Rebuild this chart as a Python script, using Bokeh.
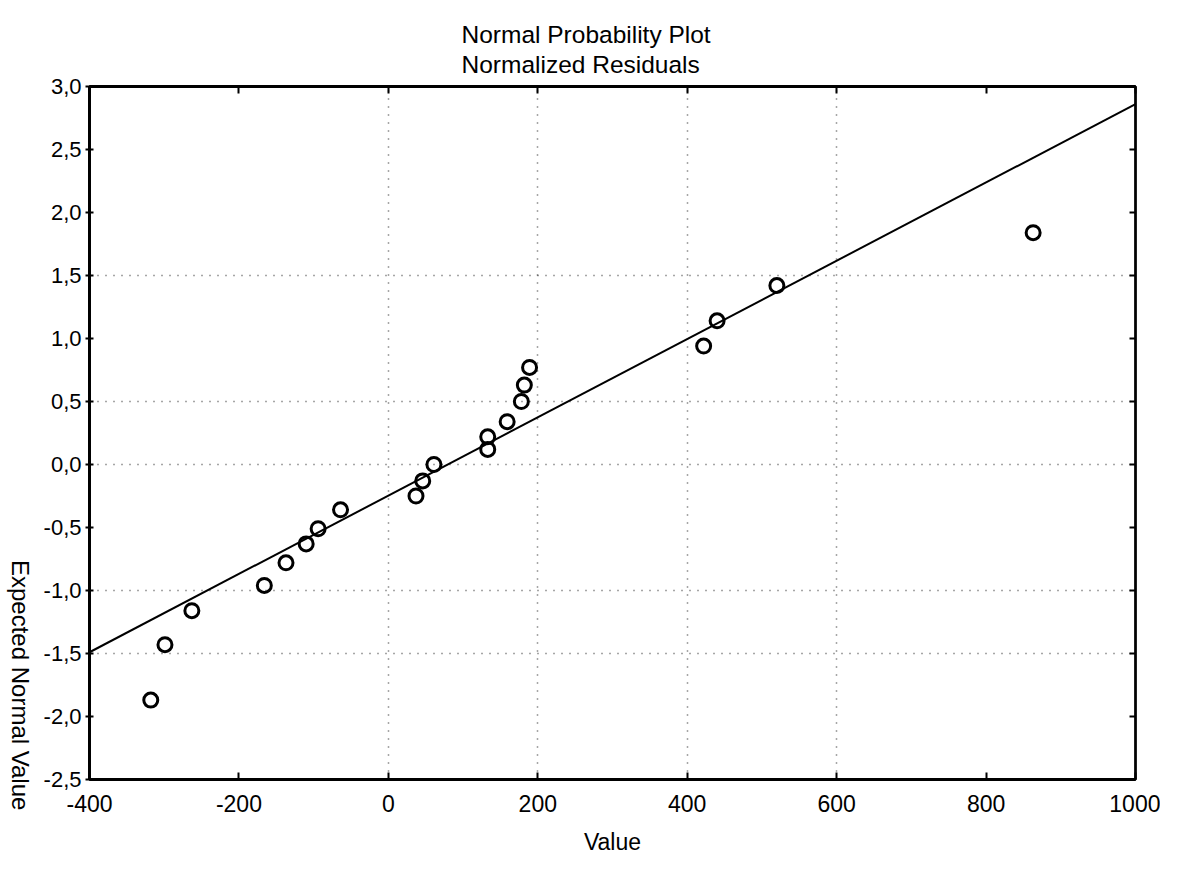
import numpy as np
from bokeh.plotting import figure
from bokeh.layouts import row
from bokeh.models import LinearAxis, FixedTicker, Range1d, CustomJSTickFormatter, Grid, Title, Div
from bokeh.embed import file_html
from bokeh.resources import INLINE

# ---- data ----
values = [-318, -299, -263, -166, -137, -110, -94, -64, 37, 46, 61,
          133, 133, 159, 178, 182, 189, 422, 440, 520, 863]
expected = [-1.87, -1.43, -1.16, -0.96, -0.78, -0.63, -0.51, -0.36, -0.25, -0.13, 0.00,
            0.22, 0.12, 0.34, 0.50, 0.63, 0.77, 0.94, 1.14, 1.42, 1.84]
fit_x = [-400, 1000]
fit_y = [-1.49, 2.86]

x_ticks = [-400, -200, 0, 200, 400, 600, 800, 1000]
y_ticks = [3.0, 2.5, 2.0, 1.5, 1.0, 0.5, 0.0, -0.5, -1.0, -1.5, -2.0, -2.5]
x_grid = [0, 200, 400, 600]
y_grid = [1.5, 0.5, 0.0, -1.0, -1.5]

title_text = "Normal Probability Plot"
subtitle_text = "Normalized Residuals"
x_label = "Value"
y_label = "Expected Normal Value"

FONT = "Liberation Sans"
H = 859
LW = 37

# ---- main plot ----
p = figure(width=1160 - LW, height=H, output_backend="svg", toolbar_location=None,
           x_range=Range1d(-400, 1000), y_range=Range1d(-2.5, 3.0),
           min_border_left=89 - LW, min_border_right=25, min_border_top=86, min_border_bottom=H - 779,
           x_axis_type=None, y_axis_type=None)
p.background_fill_color = "white"
p.border_fill_color = "white"
p.outline_line_color = "black"
p.outline_line_width = 2.5

y_fmt = CustomJSTickFormatter(code="return tick.toFixed(1).replace('.', ',');")
x_fmt = CustomJSTickFormatter(code="return tick.toFixed(0);")
blank_fmt = CustomJSTickFormatter(code="return '';")


def style_axis(ax, t_in, t_out):
    ax.axis_line_color = "black"
    ax.axis_line_width = 3
    ax.major_tick_line_color = "black"
    ax.major_tick_line_width = 2
    ax.major_tick_in = t_in
    ax.major_tick_out = t_out
    ax.minor_tick_line_color = None
    ax.major_label_text_font = FONT
    ax.major_label_text_color = "black"


bottom = LinearAxis(ticker=FixedTicker(ticks=x_ticks), formatter=x_fmt)
style_axis(bottom, 7, 0)
bottom.major_label_text_font_size = "23px"
bottom.major_label_standoff = 15
bottom.axis_label = x_label
bottom.axis_label_text_font = FONT
bottom.axis_label_text_font_size = "23px"
bottom.axis_label_text_font_style = "normal"
bottom.axis_label_text_color = "black"
bottom.axis_label_standoff = 14
p.add_layout(bottom, "below")

left = LinearAxis(ticker=FixedTicker(ticks=y_ticks), formatter=y_fmt)
style_axis(left, 4, 4)
left.major_label_text_font_size = "22px"
left.major_label_standoff = 4
p.add_layout(left, "left")

top = LinearAxis(ticker=FixedTicker(ticks=x_ticks), formatter=blank_fmt)
style_axis(top, 7, 0)
top.major_label_standoff = 0
p.add_layout(top, "above")

right = LinearAxis(ticker=FixedTicker(ticks=y_ticks), formatter=blank_fmt)
style_axis(right, 6, 0)
right.axis_line_width = 2
right.major_label_standoff = 0
p.add_layout(right, "right")

# dotted grids (only those visible in reference)
for dim, ticks in ((0, x_grid), (1, y_grid)):
    p.add_layout(Grid(dimension=dim, ticker=FixedTicker(ticks=ticks), grid_line_color="#222222",
                      grid_line_dash="1 7", grid_line_width=1.5, grid_line_alpha=0.8))

# fitted line
p.line(fit_x, fit_y, line_color="black", line_width=2)

# points
p.scatter(values, expected, marker="circle", size=14, fill_color=None,
          line_color="black", line_width=3)

# two-line title, both lines left-aligned as in the reference
p.add_layout(Title(text=title_text + "\n" + subtitle_text, align="left", offset=372,
                   text_font=FONT, text_font_size="24.5px", text_font_style="normal",
                   text_color="black", text_line_height=1.1, standoff=17), "above")

# ---- rotated y-axis label (reads top to bottom) in a narrow side cell ----
ylab = Div(text=('<div style="margin:0; padding-top:560px; padding-left:8px; '
                 'writing-mode:vertical-rl; font-family:\'Liberation Sans\'; font-size:24px; '
                 'line-height:24px; white-space:nowrap; color:black;">' + y_label + '</div>'),
           width=LW, height=H, margin=0)

layout = row(ylab, p, spacing=0)
open("out.html", "w").write(file_html(layout, INLINE))
